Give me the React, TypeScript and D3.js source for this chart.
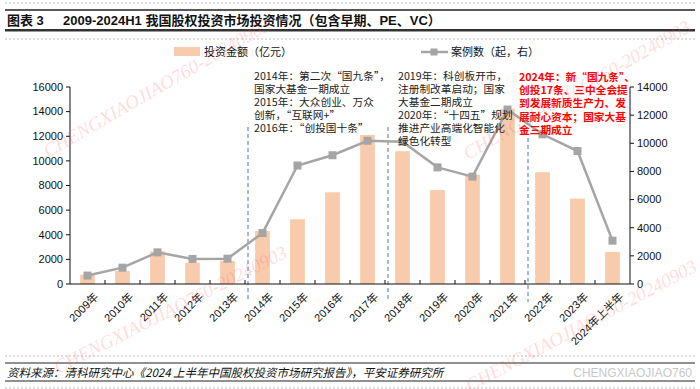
import React from "react";
import * as d3 from "d3";

// categories and values
const years = [
  "2009年", "2010年", "2011年", "2012年", "2013年", "2014年", "2015年", "2016年",
  "2017年", "2018年", "2019年", "2020年", "2021年", "2022年", "2023年", "2024年上半年",
];
const amount = [750, 1050, 2650, 1730, 1880, 4300, 5260, 7450, 12110, 10790, 7630, 8870, 14230, 9080, 6930, 2600];
const cases = [600, 1160, 2250, 1780, 1800, 3620, 8420, 9150, 10180, 10110, 8290, 7630, 12400, 10640, 9450, 3080];
const leftTicks = [0, 2000, 4000, 6000, 8000, 10000, 12000, 14000, 16000];
const rightTicks = [0, 2000, 4000, 6000, 8000, 10000, 12000, 14000];
// dashed dividers sit just before these years
const dividerYears = ["2014年", "2018年", "2022年"];

const note1 = [
  "2014年：第二次“国九条”，",
  "国家大基金一期成立",
  "2015年：大众创业、万众",
  "创新，“互联网+”",
  "2016年：“创投国十条”",
];
const note2 = [
  "2019年：科创板开市，",
  "注册制改革启动；国家",
  "大基金二期成立",
  "2020年：“十四五”规划",
  "推进产业高端化智能化",
  "绿色化转型",
];
const note3 = [
  "2024年：新“国九条”、",
  "创投17条、三中全会提",
  "到发展新质生产力、发",
  "展耐心资本；国家大基",
  "金三期成立",
];

const W = 700;
const H = 389;
const margin = { left: 70, right: 70, top: 87, bottom: 105 };
const FONT = "Arial, 'Liberation Sans', 'Noto Sans CJK SC', sans-serif";
const CJK = "'Noto Sans CJK SC', sans-serif";
const BAR = "#F8CBAD";
const LINE = "#A5A5A5";

const App = () => {
  const x = d3
    .scaleBand()
    .domain(years)
    .range([margin.left, W - margin.right]);
  const yL = d3.scaleLinear().domain([0, 16000]).range([H - margin.bottom, margin.top]);
  const yR = d3.scaleLinear().domain([0, 14000]).range([H - margin.bottom, margin.top]);
  const bw = x.bandwidth();
  const cx = (d) => x(d) + bw / 2;
  const base = H - margin.bottom;

  const line = d3
    .line()
    .x((d, i) => cx(years[i]))
    .y((d) => yR(d));

  const watermarks = [
    [48, 158, -30],
    [58, 374, -27],
    [468, 160, -30],
    [470, 392, -28],
  ];

  return (
    <svg
      width={W}
      height={H}
      style={{ position: "absolute", left: 0, top: 0, background: "#fff" }}
    >
      {/* header rules and title */}
      <line x1={5} x2={695} y1={3} y2={3} stroke="#bbb" strokeDasharray="2,2" />
      <line x1={5} x2={695} y1={10} y2={10} stroke="#222" strokeWidth={1.5} />
      <text x={7} y={25} fontFamily={FONT} fontSize={13} fontWeight="bold" fill="#111">
        图表 3
      </text>
      <text x={63} y={25} fontFamily={FONT} fontSize={13} fontWeight="bold" fill="#111">
        2009-2024H1 我国股权投资市场投资情况（包含早期、PE、VC）
      </text>
      <line x1={5} x2={695} y1={30} y2={30} stroke="#333" strokeWidth={2} />
      <line x1={5} x2={695} y1={31.5} y2={31.5} stroke="#999" strokeWidth={1} />
      <line x1={5} x2={695} y1={39} y2={39} stroke="#bbb" strokeDasharray="2,2" />

      {/* legend */}
      <rect x={174} y={47} width={26} height={9} fill={BAR} />
      <text x={204} y={52} dy="0.35em" fontFamily={CJK} fontSize={11} fill="#111">
        投资金额（亿元）
      </text>
      <line x1={421} x2={448} y1={52} y2={52} stroke={LINE} strokeWidth={2.5} />
      <rect x={430.5} y={48.5} width={7} height={7} fill={LINE} />
      <text x={451} y={52} dy="0.35em" fontFamily={CJK} fontSize={11} fill="#111">
        案例数（起，右）
      </text>

      {/* bars */}
      {amount.map((v, i) => (
        <rect
          key={years[i]}
          x={cx(years[i]) - bw * 0.21}
          y={yL(v)}
          width={bw * 0.42}
          height={base - yL(v)}
          fill={BAR}
        />
      ))}

      {/* dashed dividers */}
      {dividerYears.map((d, i) => (
        <line
          key={d}
          x1={x(d) + 3}
          x2={x(d) + 3}
          y1={i === 2 ? 138 : 127}
          y2={302}
          stroke="#4472C4"
          strokeWidth={1}
          strokeDasharray="4,3"
        />
      ))}

      {/* case count line */}
      <path d={line(cases)} fill="none" stroke={LINE} strokeWidth={2.5} />
      {cases.map((v, i) => (
        <rect
          key={years[i]}
          x={cx(years[i]) - 4}
          y={yR(v) - 4}
          width={8}
          height={8}
          fill={LINE}
        />
      ))}

      {/* axes */}
      <line x1={margin.left} x2={margin.left} y1={margin.top} y2={base} stroke="#111" />
      <line x1={W - margin.right} x2={W - margin.right} y1={margin.top} y2={base} stroke="#111" />
      <line x1={margin.left} x2={W - margin.right} y1={base} y2={base} stroke="#111" />
      {leftTicks.map((t) => (
        <g key={"l" + t}>
          <line x1={margin.left - 4} x2={margin.left} y1={yL(t)} y2={yL(t)} stroke="#111" />
          <text
            x={margin.left - 7}
            y={yL(t)}
            dy="0.35em"
            textAnchor="end"
            fontFamily={FONT}
            fontSize={11}
            fill="#111"
          >
            {t}
          </text>
        </g>
      ))}
      {rightTicks.map((t) => (
        <g key={"r" + t}>
          <line
            x1={W - margin.right}
            x2={W - margin.right + 4}
            y1={yR(t)}
            y2={yR(t)}
            stroke="#111"
          />
          <text
            x={W - margin.right + 7}
            y={yR(t)}
            dy="0.35em"
            fontFamily={FONT}
            fontSize={11}
            fill="#111"
          >
            {t}
          </text>
        </g>
      ))}
      {years.map((d, i) => (
        <g key={"x" + d}>
          {i > 0 && (
            <line x1={x(d)} x2={x(d)} y1={base - 4} y2={base} stroke="#111" />
          )}
          <text
            transform={`translate(${cx(d) + 6},${base + 8}) rotate(-45)`}
            textAnchor="end"
            dy="0.7em"
            fontFamily={FONT}
            fontSize={11}
            fill="#111"
          >
            {d}
          </text>
        </g>
      ))}

      {/* annotations */}
      {note1.map((t, i) => (
        <text key={t} x={254} y={76 + i * 13} dy="0.35em" fontFamily={CJK} fontSize={10.7} fill="#222">
          {t}
        </text>
      ))}
      {note2.map((t, i) => (
        <text key={t} x={398} y={76 + i * 13} dy="0.35em" fontFamily={CJK} fontSize={10.7} fill="#222">
          {t}
        </text>
      ))}
      {note3.map((t, i) => (
        <text
          key={t}
          x={519}
          y={77 + i * 13.3}
          dy="0.35em"
          fontFamily={CJK}
          fontSize={10.7}
          fontWeight="bold"
          fill="#FF0000"
        >
          {t}
        </text>
      ))}

      {/* footer */}
      <line x1={5} x2={695} y1={356} y2={356} stroke="#bbb" strokeDasharray="2,2" />
      <line x1={5} x2={695} y1={363} y2={363} stroke="#222" strokeWidth={1.2} />
      <text x={7} y={373} dy="0.35em" fontFamily={CJK} fontSize={11.5} fontStyle="italic" fill="#111">
        资料来源：清科研究中心《2024 上半年中国股权投资市场研究报告》，平安证券研究所
      </text>
      <text x={692} y={373} dy="0.35em" textAnchor="end" fontFamily={FONT} fontSize={12} fill="#c8c8c8">
        CHENGXIAOJIAO760
      </text>
      <line x1={5} x2={695} y1={381} y2={381} stroke="#222" strokeWidth={1.2} />
      <line x1={5} x2={695} y1={388} y2={388} stroke="#bbb" strokeDasharray="2,2" />

      {/* watermarks */}
      {watermarks.map(([wx, wy, a], i) => (
        <text
          key={"w" + i}
          transform={`translate(${wx},${wy}) rotate(${a})`}
          fontFamily="'Liberation Serif', serif"
          fontStyle="italic"
          fontSize={19}
          fill="rgba(255,90,90,0.22)"
        >
          CHENGXIAOJIAO760-20240903
        </text>
      ))}
    </svg>
  );
};

export default App;
